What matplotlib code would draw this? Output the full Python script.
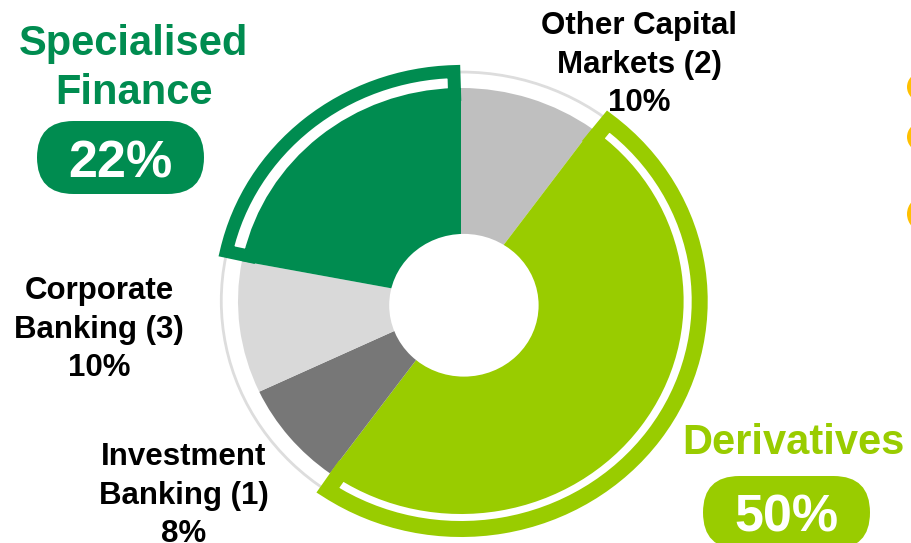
import matplotlib
matplotlib.use("Agg")
import matplotlib.pyplot as plt
from matplotlib.patches import Wedge, Circle, FancyBboxPatch
from matplotlib.transforms import Affine2D

# revenue split by business line, clockwise from 12 o'clock
segments = ["Other Capital\nMarkets (2)", "Derivatives", "Investment\nBanking (1)",
            "Corporate\nBanking (3)", "Specialised\nFinance"]
shares = [10, 50, 8, 10, 22]
colors = ["#BFBFBF", "#99CC00", "#777777", "#D9D9D9", "#008C50"]
highlight = [False, True, False, False, True]

W, H = 911, 543
plt.rcParams['font.family'] = ['Liberation Sans', 'DejaVu Sans']
plt.rcParams['font.weight'] = 'bold'

fig = plt.figure(figsize=(W / 100, H / 100), dpi=100)
ax = fig.add_axes([0, 0, 1, 1])

ax.pie(shares, colors=colors, startangle=90, counterclock=False, radius=1,
       wedgeprops=dict(linewidth=0))

# keep the slight horizontal stretch of the original slide
sx, sy = 223, 213
cx, cy = 461, 301
ax.set_aspect('auto')
ax.set_xlim(-cx / sx, (W - cx) / sx)
ax.set_ylim(-(H - cy) / sy, cy / sy)
ax.axis('off')

# donut hole (sits a touch off-centre in the original)
ax.add_patch(Circle((0.013, -0.02), 0.335, facecolor="white", edgecolor='none', zorder=2))

# thin grey guide ring
ax.add_patch(Circle((0, 0), 1.075, fill=False, edgecolor="#DDDDDD", lw=2, zorder=1))

# outlined bands around the two highlighted segments
cum = 0
for share, col, hl in zip(shares, colors, highlight):
    t2 = 90 - cum * 3.6
    t1 = 90 - (cum + share) * 3.6
    cum += share
    if not hl:
        continue
    lw_px = 16 if col == "#99CC00" else 13
    half = lw_px / 2 / sy
    inset = half / 1.03 * 57.3
    band = Wedge((0, 0), 1.108 - half, t1 + inset, t2 - inset, width=0.108,
                 facecolor="white", edgecolor=col, lw=lw_px * 0.72, joinstyle='miter', zorder=3)
    ax.add_patch(band)

# pixel transform measured from the top-left corner
px = Affine2D().scale(1, -1).translate(0, H)

def label(x, y, s, size, color, va='top', ls=1.37):
    fig.text(x, y, s, transform=px, ha='center', va=va, multialignment='center',
             fontsize=size, color=color, fontweight='bold', linespacing=ls)

def pill(x0, y0, w, h, col):
    box = FancyBboxPatch((x0, H - y0 - h), w, h, boxstyle=f"round,pad=0,rounding_size={h / 2}",
                         transform=Affine2D(), facecolor=col, edgecolor='none')
    fig.add_artist(box)

label(639, 11, f"{segments[0]}\n{shares[0]}%", 22.5, "black")
label(99, 276, f"{segments[3]}\n{shares[3]}%", 22.5, "black")
label(184, 442, f"{segments[2]}\n{shares[2]}%", 22.5, "black")

label(134, 24, segments[4], 30, colors[4], ls=1.3)
pill(37, 121, 167, 73, colors[4])
label(120.5, 177, f"{shares[4]}%", 37.5, "white", va='baseline')

label(793, 454, segments[1], 30, colors[1], va='baseline')
pill(703, 476, 167, 73, colors[1])
label(786.5, 532, f"{shares[1]}%", 37.5, "white", va='baseline')

# edges of the footnote markers cut off by the slide border
for y, r in zip([87, 137, 214], [14.5, 14.5, 18]):
    fig.add_artist(Circle((907 + r, H - y), r, transform=Affine2D(), facecolor="#FFC000",
                          edgecolor='none'))

fig.savefig("out.png", dpi=100)
